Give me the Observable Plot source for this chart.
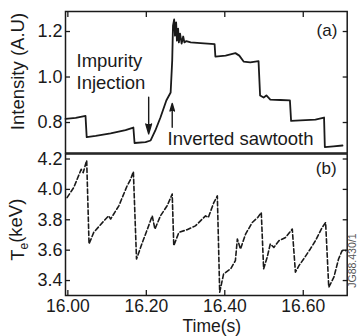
<!DOCTYPE html>
<html><head><meta charset="utf-8">
<script src="https://cdn.jsdelivr.net/npm/d3@7"></script>
<script src="https://cdn.jsdelivr.net/npm/@observablehq/plot@0.6"></script>
<style>
body{margin:0;background:#fff}
#chart{width:359px}
#chart svg{display:block;overflow:visible}
</style>
</head><body><div id="chart"></div>
<script>
// ---- data ----
const intensityTime = [15.994,16.020,16.045,16.048,16.071,16.109,16.147,16.167,16.170,16.198,16.211,16.223,16.236,16.251,16.262,16.266,16.268,16.271,16.273,16.276,16.278,16.281,16.283,16.286,16.290,16.294,16.297,16.302,16.313,16.338,16.374,16.376,16.402,16.427,16.437,16.448,16.465,16.486,16.490,16.499,16.506,16.516,16.542,16.566,16.569,16.593,16.631,16.653,16.655,16.677,16.700];
const intensityValue = [0.816,0.820,0.829,0.736,0.741,0.752,0.767,0.778,0.710,0.714,0.721,0.765,0.822,0.897,0.932,1.073,1.226,1.253,1.182,1.240,1.160,1.213,1.152,1.191,1.147,1.178,1.152,1.158,1.152,1.149,1.145,1.090,1.094,1.105,1.094,1.068,1.064,1.070,0.919,0.910,0.919,0.901,0.899,0.897,0.807,0.809,0.813,0.822,0.692,0.695,0.699];

const teTime = [15.998,16.015,16.034,16.039,16.048,16.054,16.066,16.092,16.104,16.109,16.130,16.151,16.160,16.167,16.175,16.190,16.206,16.215,16.222,16.236,16.253,16.266,16.270,16.283,16.304,16.325,16.338,16.351,16.358,16.372,16.381,16.387,16.397,16.415,16.427,16.432,16.440,16.453,16.470,16.484,16.493,16.499,16.508,16.516,16.525,16.538,16.555,16.572,16.580,16.589,16.601,16.618,16.631,16.648,16.657,16.665,16.678,16.690,16.699,16.708];
const teValue = [3.946,4.012,4.132,4.110,4.191,3.641,3.717,3.793,3.826,3.805,3.892,4.023,4.067,4.117,3.542,3.651,3.761,3.826,3.739,3.826,3.892,3.969,3.630,3.717,3.735,3.760,3.793,3.826,3.815,3.913,3.957,3.323,3.444,3.477,3.531,3.673,3.608,3.706,3.782,3.815,3.848,3.477,3.553,3.641,3.618,3.662,3.684,3.739,3.455,3.498,3.542,3.608,3.662,3.749,3.782,3.356,3.422,3.542,3.597,3.597];

const timeTicks = [16.0, 16.2, 16.4, 16.6];
const intensityTicks = [0.8, 1.0, 1.2];
const teTicks = [3.4, 3.6, 3.8, 4.0, 4.2];

const intensityLabel = "Intensity (A.U)";
const teLabel = "Te(keV)";
const timeLabel = "Time(s)";
const panelA = "(a)";
const panelB = "(b)";
const injectionText = "Impurity\nInjection";
const invertedText = "Inverted sawtooth";
const figureId = "JG88.430/1";

// annotation anchors (data units)
const injectionArrow = {x: 16.206, y1: 0.911, y2: 0.750};
const invertedArrow = {x: 16.266, y1: 0.779, y2: 0.884};

// ---- rendering ----
const ink = "#1a1a1a";
const font = "'Liberation Sans', Arial, Helvetica, sans-serif";
const W = 359, ML = 65, MR = 12.3;
const xDomain = [15.994, 16.712];

const intensityData = intensityTime.map((t, i) => ({t, v: intensityValue[i]}));
const teData = teTime.map((t, i) => ({t, v: teValue[i]}));

const common = {
  width: W, marginLeft: ML, marginRight: MR,
  x: {domain: xDomain},
  style: {fontFamily: font, fontSize: "18px", color: ink, background: "transparent", overflow: "visible"}
};

const topPanel = Plot.plot({
  ...common,
  height: 153, marginTop: 11, marginBottom: 0.5,
  y: {domain: [0.666, 1.288]},
  marks: [
    Plot.frame({stroke: ink, strokeWidth: 1.5}),
    Plot.axisY({ticks: intensityTicks, tickSize: -5, tickFormat: () => "", label: null, strokeWidth: 1.3}),
    Plot.axisY({ticks: intensityTicks, anchor: "right", tickSize: -5, tickFormat: () => "", label: null, strokeWidth: 1.3}),
    Plot.axisX({ticks: timeTicks, anchor: "top", tickSize: -5, tickFormat: () => "", label: null, strokeWidth: 1.3}),
    Plot.axisY({ticks: intensityTicks, tickSize: 0, tickPadding: 3, tickFormat: d3.format(".1f"), label: null, fontSize: 18}),
    Plot.line(intensityData, {x: "t", y: "v", stroke: ink, strokeWidth: 1.8, strokeLinejoin: "round"}),
    Plot.arrow([injectionArrow], {x1: "x", x2: "x", y1: "y1", y2: "y2", stroke: ink, fill: ink, strokeWidth: 1.4, headLength: 11, headAngle: 32}),
    Plot.arrow([invertedArrow], {x1: "x", x2: "x", y1: "y1", y2: "y2", stroke: ink, fill: ink, strokeWidth: 1.4, headLength: 10, headAngle: 32}),
    Plot.text([injectionText], {x: 16.022, y: 1.110, text: d => d, textAnchor: "start", lineAnchor: "top", lineHeight: 1.17, fontSize: 18.5, fill: ink}),
    Plot.text([invertedText], {x: 16.254, y: 0.758, text: d => d, textAnchor: "start", lineAnchor: "top", fontSize: 18.5, fill: ink}),
    Plot.text([panelA], {x: 16.687, y: 1.182, text: d => d, textAnchor: "end", lineAnchor: "bottom", fontSize: 17, fill: ink}),
    Plot.text([intensityLabel], {frameAnchor: "left", dx: -47, dy: -10.7, rotate: -90, textAnchor: "middle", text: d => d, fontSize: 18.5, fill: ink})
  ]
});

const bottomPanel = Plot.plot({
  ...common,
  height: 183, marginTop: 0.5, marginBottom: 41,
  y: {domain: [3.3016, 4.233]},
  marks: [
    Plot.frame({stroke: ink, strokeWidth: 1.5}),
    Plot.axisY({ticks: teTicks, tickSize: -5, tickFormat: () => "", label: null, strokeWidth: 1.3}),
    Plot.axisY({ticks: teTicks, anchor: "right", tickSize: -5, tickFormat: () => "", label: null, strokeWidth: 1.3}),
    Plot.axisX({ticks: timeTicks, tickSize: -5, tickFormat: () => "", label: null, strokeWidth: 1.3}),
    Plot.axisY({ticks: teTicks, tickSize: 0, tickPadding: 3, tickFormat: d3.format(".1f"), label: null, fontSize: 18}),
    Plot.axisX({ticks: timeTicks, tickSize: 0, tickPadding: 4, tickFormat: d3.format(".2f"), label: null, fontSize: 17.5}),
    Plot.line(teData, {x: "t", y: "v", stroke: ink, strokeWidth: 1.6, strokeDasharray: "4.5,2.5", strokeLinejoin: "round"}),
    Plot.text([panelB], {x: 16.685, y: 4.10, text: d => d, textAnchor: "end", lineAnchor: "bottom", fontSize: 17, fill: ink}),
    Plot.text([teLabel], {frameAnchor: "left", dx: -47, dy: 5, rotate: -90, textAnchor: "middle", text: d => d, fontSize: 18.5, fill: ink}),
    Plot.text([timeLabel], {x: 16.367, frameAnchor: "bottom", dy: 36, lineAnchor: "bottom", text: d => d, fontSize: 17.5, fill: ink}),
    Plot.text([figureId], {x: 16.725, y: 3.531, rotate: -90, text: d => d, fontSize: 10.5, fill: "#555"})
  ]
});

// subscript e in Te
d3.select(bottomPanel).selectAll("text").filter(function() { return this.textContent === teLabel; }).each(function() {
  const t = d3.select(this);
  t.text(null);
  t.append("tspan").text("T");
  t.append("tspan").attr("font-size", "12px").attr("dy", "0.3em").text("e");
  t.append("tspan").attr("dy", "-0.3em").text("(keV)");
});

document.getElementById("chart").append(topPanel, bottomPanel);
</script>
</body></html>
